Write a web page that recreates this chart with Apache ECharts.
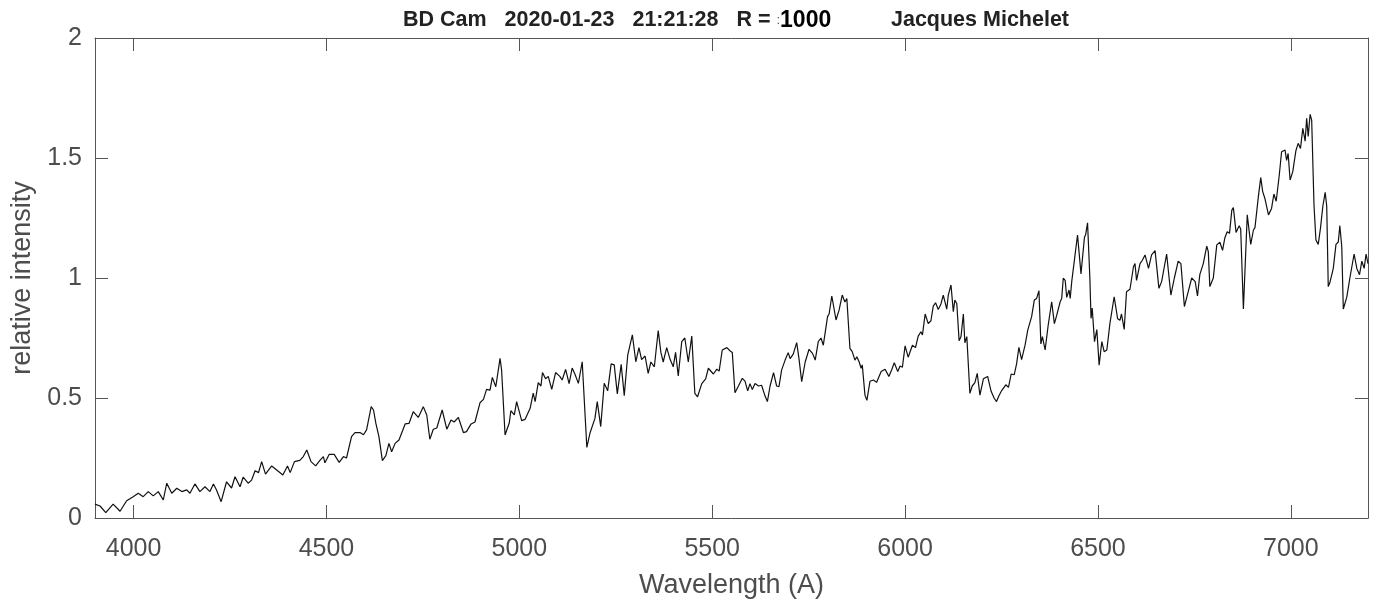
<!DOCTYPE html>
<html>
<head>
<meta charset="utf-8">
<title>BD Cam spectrum</title>
<script src="https://cdn.jsdelivr.net/npm/echarts@6/dist/echarts.min.js"></script>
<style>
  html, body { margin: 0; padding: 0; background: #fff; }
  #chart { width: 1380px; height: 605px; }
</style>
</head>
<body>
<div id="chart"></div>
<script>
// Wavelength samples (Angstrom) and relative intensity of the spectrum
const wavelengths = [
  3900, 3913, 3928, 3947, 3965, 3982, 3999, 4012, 4025, 4038, 4051, 4064, 4077, 4086, 4099, 4112, 4125, 4138, 4146, 4159,
  4172, 4185, 4198, 4207, 4215, 4227, 4241, 4254, 4263, 4276, 4284, 4297, 4306,
  4315, 4324, 4332, 4342, 4358, 4371, 4387, 4399, 4406, 4417, 4431, 4440, 4449, 4460, 4472, 4483, 4492, 4496, 4507, 4520,
  4533, 4544, 4552, 4565, 4574, 4587, 4596, 4604, 4616, 4622, 4628, 4636, 4645, 4654, 4662, 4669, 4678, 4688, 4704, 4714, 4725,
  4738, 4751, 4760, 4768, 4777, 4786, 4800, 4812, 4823, 4831, 4842, 4855, 4863, 4875, 4885, 4898, 4907, 4915, 4924, 4930,
  4939, 4950, 4954, 4963, 4974, 4978, 4987, 4993, 5006, 5015, 5028, 5036, 5041, 5049, 5056, 5060, 5068, 5075, 5084, 5094,
  5105, 5111, 5120, 5129, 5137,
  5144, 5153, 5163, 5175, 5183, 5196, 5202, 5211, 5220, 5229, 5238, 5246, 5254, 5264, 5272, 5281, 5293, 5302, 5310, 5317,
  5326, 5334, 5341, 5350, 5360, 5367, 5373, 5382, 5391, 5399, 5405, 5412, 5421, 5429, 5438, 5447, 5455, 5462, 5473, 5483,
  5490, 5503, 5512, 5518, 5526, 5538, 5546, 5552,
  5559, 5568, 5578, 5585, 5592, 5598, 5604, 5611, 5620, 5628, 5637, 5643, 5650, 5659, 5667, 5673, 5680, 5689, 5697, 5702,
  5710, 5719, 5725, 5732, 5741, 5751, 5760, 5767, 5775, 5782, 5788, 5799, 5803, 5810, 5821, 5829, 5837, 5844, 5849, 5857,
  5863, 5870, 5875, 5881, 5886, 5889, 5896, 5901, 5909, 5918, 5926, 5938, 5948, 5958, 5965, 5972,
  5981, 5987, 5993, 6000, 6008, 6019, 6027, 6034, 6041, 6045, 6052, 6060, 6067, 6073, 6079, 6086, 6093, 6099, 6108, 6112,
  6119, 6125, 6129, 6134, 6140, 6145, 6151, 6155, 6160, 6168, 6174, 6181, 6187, 6194, 6203, 6214, 6223, 6231, 6237, 6243,
  6250, 6261, 6268, 6275, 6283, 6289, 6295, 6302, 6311, 6318, 6328, 6335, 6341, 6347, 6352, 6356, 6363, 6371, 6380, 6387, 6393,
  6402, 6406, 6410, 6415, 6419, 6425, 6428, 6432, 6436, 6447, 6456, 6465, 6468, 6473, 6479, 6482, 6485, 6491, 6497, 6503,
  6510, 6516, 6523, 6531, 6542, 6551, 6557, 6561, 6568, 6574, 6583, 6592, 6596, 6600, 6609, 6615, 6622, 6631, 6639, 6648,
  6658, 6665, 6678, 6689, 6698, 6708, 6715, 6724, 6734, 6743, 6752, 6758, 6764, 6773, 6782, 6786,
  6790, 6799, 6808, 6816, 6823, 6829, 6835, 6841, 6847, 6851, 6858, 6866, 6870, 6877, 6887, 6896, 6903, 6907, 6916, 6922,
  6927, 6933, 6942, 6950, 6956, 6962, 6970, 6976, 6985, 6989, 6993, 6998, 7005, 7013, 7019, 7025, 7031, 7037, 7041, 7045,
  7050, 7054, 7060, 7065, 7071, 7077, 7083, 7089, 7093, 7097, 7101, 7110, 7117, 7123, 7127, 7132, 7136, 7145, 7153, 7164,
  7171, 7178, 7184, 7190, 7195, 7200
];

const intensity = [
  0.058, 0.050, 0.022, 0.058, 0.028, 0.072, 0.089, 0.103, 0.089, 0.110, 0.092, 0.110, 0.075, 0.145, 0.103, 0.124, 0.110, 0.117, 0.103, 0.142,
  0.110, 0.130, 0.110, 0.142, 0.117, 0.068, 0.151, 0.125, 0.172, 0.130, 0.170, 0.145, 0.158,
  0.197, 0.189, 0.235, 0.183, 0.217, 0.200, 0.179, 0.217, 0.189, 0.235, 0.240, 0.256, 0.283, 0.235, 0.217, 0.240, 0.256, 0.230, 0.265, 0.265,
  0.232, 0.256, 0.250, 0.339, 0.356, 0.356, 0.347, 0.367, 0.464, 0.450, 0.395, 0.339, 0.239, 0.260, 0.311, 0.276, 0.311, 0.325, 0.392, 0.394, 0.443,
  0.419, 0.464, 0.429, 0.328, 0.370, 0.375, 0.450, 0.370, 0.408, 0.400, 0.419, 0.356, 0.360, 0.392, 0.400, 0.480, 0.494, 0.536, 0.533, 0.586,
  0.547, 0.665, 0.617, 0.346, 0.397, 0.447, 0.430, 0.485, 0.406, 0.411, 0.457, 0.520, 0.485, 0.564, 0.550, 0.606, 0.580, 0.590, 0.536, 0.606,
  0.590, 0.575, 0.619, 0.560, 0.625,
  0.600, 0.561, 0.651, 0.294, 0.353, 0.415, 0.485, 0.381, 0.561, 0.530, 0.642, 0.638, 0.517, 0.640, 0.510, 0.679, 0.763, 0.651, 0.710, 0.660,
  0.675, 0.603, 0.650, 0.630, 0.781, 0.690, 0.650, 0.710, 0.660, 0.630, 0.690, 0.592, 0.735, 0.750, 0.650, 0.758, 0.519, 0.505, 0.560, 0.580,
  0.624, 0.600, 0.620, 0.612, 0.700, 0.710, 0.697, 0.690,
  0.522, 0.550, 0.582, 0.570, 0.530, 0.560, 0.535, 0.560, 0.550, 0.553, 0.508, 0.485, 0.550, 0.606, 0.550, 0.547, 0.617, 0.658, 0.689, 0.664,
  0.683, 0.731, 0.663, 0.568, 0.650, 0.703, 0.686, 0.658, 0.735, 0.750, 0.720, 0.839, 0.850, 0.925, 0.825, 0.867, 0.929, 0.900, 0.914, 0.707,
  0.693, 0.658, 0.672, 0.650, 0.624, 0.638, 0.512, 0.490, 0.570, 0.575, 0.565, 0.610, 0.620, 0.590, 0.617, 0.647,
  0.610, 0.633, 0.628, 0.717, 0.670, 0.720, 0.710, 0.758, 0.776, 0.763, 0.850, 0.810, 0.822, 0.883, 0.897, 0.869, 0.892, 0.929, 0.870, 0.929,
  0.971, 0.860, 0.908, 0.894, 0.739, 0.756, 0.850, 0.730, 0.756, 0.519, 0.550, 0.564, 0.603, 0.512, 0.580, 0.590, 0.528, 0.499, 0.485, 0.508,
  0.530, 0.555, 0.544, 0.600, 0.597, 0.642, 0.711, 0.660, 0.720, 0.783, 0.839, 0.908, 0.915, 0.947, 0.725, 0.756, 0.700, 0.804, 0.901, 0.810, 0.844,
  0.901, 0.915, 0.999, 0.990, 0.919, 0.950, 0.915, 0.985, 0.990, 1.179, 1.017, 1.170, 1.180, 1.230, 1.000, 0.832, 0.875, 0.735, 0.785, 0.637,
  0.735, 0.693, 0.700, 0.811, 0.922, 0.830, 0.824, 0.850, 0.786, 0.943, 0.953, 1.047, 1.060, 0.990, 1.060, 1.074, 1.096, 1.040, 1.096, 1.114,
  0.957, 0.985, 1.100, 0.929, 1.000, 1.070, 1.060, 0.881, 0.943, 1.000, 0.985, 0.925, 1.014, 1.060, 1.133, 1.110,
  0.964, 1.000, 1.138, 1.149, 1.115, 1.168, 1.193, 1.186, 1.283, 1.293, 1.190, 1.218, 1.204, 0.871, 1.263, 1.140, 1.200, 1.210, 1.342, 1.418,
  1.360, 1.330, 1.263, 1.290, 1.350, 1.320, 1.429, 1.526, 1.533, 1.490, 1.519, 1.408, 1.443, 1.530, 1.561, 1.540, 1.624, 1.570, 1.665, 1.590,
  1.682, 1.658, 1.304, 1.158, 1.140, 1.210, 1.300, 1.357, 1.300, 0.964, 0.980, 1.040, 1.140, 1.150, 1.218, 1.130, 0.871, 0.920, 1.000, 1.100,
  1.040, 1.014, 1.070, 1.040, 1.100, 1.060
];

// Tick positions on the wavelength and intensity axes
const xTicks = [4000, 4500, 5000, 5500, 6000, 6500, 7000];
const yTicks = [0, 0.5, 1, 1.5, 2];

const axisColor = '#555555';
const labelColor = '#4d4d4d';
const font = 'Liberation Sans, Arial, Helvetica, sans-serif';

const seriesData = wavelengths.map((w, i) => [w, intensity[i]]);

const chart = echarts.init(document.getElementById('chart'), null, { renderer: 'canvas' });

chart.setOption({
  animation: false,
  backgroundColor: '#ffffff',
  title: {
    left: 403,
    top: 9,
    padding: 0,
    text: '{b|BD Cam   2020-01-23   21:21:28   R = }{s|:}{r|1000}{b|          Jacques Michelet}',
    textStyle: {
      rich: {
        b: { fontFamily: font, fontWeight: 'bold', fontSize: 21.5, color: '#222222' },
        s: { fontFamily: font, fontWeight: 'normal', fontSize: 13, color: '#555555' },
        r: { fontFamily: font, fontWeight: 'bold', fontSize: 23, color: '#000000' }
      }
    }
  },
  grid: { left: 95, right: 12, top: 38, bottom: 87, containLabel: false },
  xAxis: [
    {
      type: 'value',
      position: 'bottom',
      min: 3900,
      max: 7200,
      name: 'Wavelength (A)',
      nameLocation: 'middle',
      nameGap: 54,
      nameTextStyle: { fontFamily: font, fontSize: 27, color: labelColor },
      axisLine: { show: true, onZero: false, lineStyle: { color: axisColor, width: 1 } },
      axisTick: { show: true, inside: true, length: 13, customValues: xTicks, lineStyle: { color: axisColor, width: 1 } },
      axisLabel: {
        show: true, customValues: xTicks, margin: 19, fontFamily: font, fontSize: 25, color: labelColor,
        formatter: (v) => String(v)
      },
      splitLine: { show: false }
    },
    {
      type: 'value',
      position: 'top',
      min: 3900,
      max: 7200,
      axisLine: { show: true, onZero: false, lineStyle: { color: axisColor, width: 1 } },
      axisTick: { show: true, inside: true, length: 13, customValues: xTicks, lineStyle: { color: axisColor, width: 1 } },
      axisLabel: { show: false },
      splitLine: { show: false }
    }
  ],
  yAxis: [
    {
      type: 'value',
      position: 'left',
      min: 0,
      max: 2,
      interval: 0.5,
      name: 'relative intensity',
      nameLocation: 'middle',
      nameGap: 53,
      nameTextStyle: { fontFamily: font, fontSize: 27, color: labelColor },
      axisLine: { show: true, onZero: false, lineStyle: { color: axisColor, width: 1 } },
      axisTick: { show: true, inside: true, length: 13, customValues: yTicks, lineStyle: { color: axisColor, width: 1 } },
      axisLabel: {
        show: true, customValues: yTicks, margin: 13, fontFamily: font, fontSize: 25, color: labelColor,
        formatter: (v) => String(v)
      },
      splitLine: { show: false }
    },
    {
      type: 'value',
      position: 'right',
      min: 0,
      max: 2,
      interval: 0.5,
      axisLine: { show: true, onZero: false, lineStyle: { color: axisColor, width: 1 } },
      axisTick: { show: true, inside: true, length: 13, customValues: yTicks, lineStyle: { color: axisColor, width: 1 } },
      axisLabel: { show: false },
      splitLine: { show: false }
    }
  ],
  series: [
    {
      type: 'line',
      xAxisIndex: 0,
      yAxisIndex: 0,
      data: seriesData,
      showSymbol: false,
      symbol: 'none',
      smooth: false,
      lineStyle: { color: '#111111', width: 1.2 },
      emphasis: { disabled: true }
    }
  ]
});
</script>
</body>
</html>
